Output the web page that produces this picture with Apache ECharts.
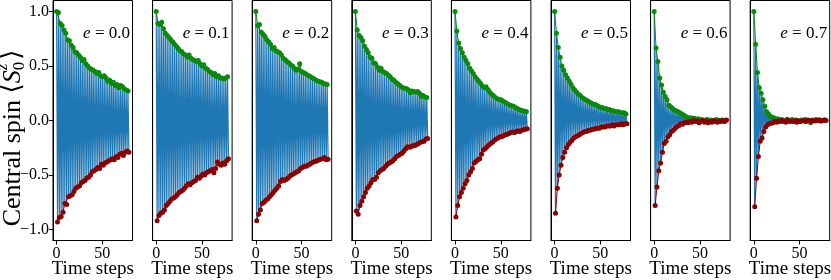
<!DOCTYPE html>
<html>
<head>
<meta charset="utf-8">
<script src="https://cdn.jsdelivr.net/npm/echarts@6/dist/echarts.min.js"></script>
<style>
  html, body { margin: 0; padding: 0; background: #fff; }
  #main { width: 831px; height: 280px; }
</style>
</head>
<body>
<div id="main"></div>
<script>
// panel labels (value of e)
var eLabels = ['0.0', '0.1', '0.2', '0.3', '0.4', '0.5', '0.6', '0.7'];
var xTicks = [0, 50];
var yTicks = [-1, -0.5, 0, 0.5, 1];

// upper envelope: even time steps 0,2,...,78 (green)
// lower envelope: odd time steps 1,3,...,79 (red)
var up00 = [1.00, 0.99, 0.89, 0.87, 0.83, 0.80, 0.74, 0.73, 0.69, 0.67, 0.63, 0.62, 0.60, 0.58, 0.55, 0.56, 0.52, 0.50, 0.48, 0.47,
            0.46, 0.45, 0.43, 0.44, 0.41, 0.40, 0.41, 0.39, 0.36, 0.37, 0.34, 0.35, 0.32, 0.33, 0.30, 0.32, 0.31, 0.29, 0.28, 0.27];
var lo00 = [-0.93, -0.89, -0.88, -0.84, -0.76, -0.77, -0.70, -0.69, -0.68, -0.65, -0.62, -0.61, -0.60, -0.57, -0.56, -0.55, -0.53, -0.52, -0.50, -0.47,
            -0.46, -0.45, -0.43, -0.44, -0.40, -0.41, -0.39, -0.38, -0.37, -0.36, -0.35, -0.36, -0.33, -0.34, -0.31, -0.30, -0.32, -0.29, -0.28, -0.29];

var up01 = [1.00, 0.89, 0.88, 0.90, 0.84, 0.80, 0.78, 0.76, 0.74, 0.72, 0.70, 0.68, 0.66, 0.64, 0.63, 0.61, 0.60, 0.58, 0.60, 0.57,
            0.56, 0.55, 0.54, 0.55, 0.52, 0.50, 0.51, 0.48, 0.47, 0.45, 0.44, 0.42, 0.43, 0.40, 0.41, 0.39, 0.39, 0.38, 0.39, 0.40];
var lo01 = [-0.92, -0.87, -0.85, -0.84, -0.82, -0.78, -0.76, -0.74, -0.72, -0.71, -0.70, -0.68, -0.66, -0.65, -0.64, -0.62, -0.60, -0.58, -0.59, -0.57,
            -0.56, -0.55, -0.52, -0.53, -0.51, -0.49, -0.50, -0.48, -0.47, -0.46, -0.45, -0.48, -0.44, -0.38, -0.40, -0.41, -0.39, -0.40, -0.37, -0.35];

var up02 = [1.00, 0.87, 0.88, 0.81, 0.79, 0.77, 0.74, 0.72, 0.70, 0.66, 0.67, 0.64, 0.63, 0.62, 0.60, 0.57, 0.56, 0.54, 0.53, 0.51,
            0.50, 0.48, 0.46, 0.47, 0.52, 0.45, 0.44, 0.43, 0.42, 0.41, 0.40, 0.39, 0.38, 0.37, 0.36, 0.355, 0.35, 0.34, 0.335, 0.33];
var lo02 = [-0.92, -0.86, -0.82, -0.76, -0.75, -0.73, -0.72, -0.70, -0.68, -0.66, -0.64, -0.62, -0.60, -0.56, -0.54, -0.55, -0.54, -0.53, -0.51, -0.50,
            -0.49, -0.48, -0.47, -0.46, -0.44, -0.43, -0.42, -0.42, -0.41, -0.40, -0.39, -0.38, -0.375, -0.37, -0.36, -0.355, -0.35, -0.34, -0.36, -0.355];

var up03 = [1.00, 0.83, 0.78, 0.76, 0.73, 0.68, 0.65, 0.62, 0.58, 0.57, 0.53, 0.52, 0.49, 0.46, 0.48, 0.45, 0.44, 0.43, 0.415, 0.40,
            0.38, 0.37, 0.35, 0.34, 0.325, 0.31, 0.30, 0.295, 0.29, 0.28, 0.255, 0.27, 0.265, 0.26, 0.265, 0.25, 0.22, 0.23, 0.215, 0.21];
var lo03 = [-0.83, -0.86, -0.78, -0.74, -0.70, -0.66, -0.62, -0.60, -0.57, -0.54, -0.54, -0.52, -0.48, -0.46, -0.45, -0.44, -0.42, -0.40, -0.39, -0.38,
            -0.37, -0.35, -0.33, -0.32, -0.31, -0.30, -0.28, -0.26, -0.24, -0.245, -0.24, -0.23, -0.23, -0.22, -0.21, -0.20, -0.195, -0.19, -0.17, -0.165];

var up04 = [1.00, 0.82, 0.71, 0.66, 0.62, 0.58, 0.55, 0.52, 0.48, 0.455, 0.43, 0.40, 0.38, 0.36, 0.34, 0.315, 0.30, 0.31, 0.285, 0.26,
            0.24, 0.23, 0.21, 0.20, 0.195, 0.19, 0.18, 0.17, 0.16, 0.15, 0.14, 0.135, 0.13, 0.12, 0.11, 0.10, 0.095, 0.09, 0.085, 0.08];
var lo04 = [-0.885, -0.78, -0.70, -0.66, -0.62, -0.58, -0.55, -0.50, -0.47, -0.44, -0.39, -0.375, -0.36, -0.35, -0.31, -0.27, -0.26, -0.24, -0.225, -0.21,
            -0.20, -0.18, -0.17, -0.16, -0.15, -0.15, -0.14, -0.13, -0.125, -0.12, -0.11, -0.105, -0.11, -0.10, -0.095, -0.10, -0.09, -0.085, -0.08, -0.075];

var up05 = [1.00, 0.80, 0.67, 0.58, 0.50, 0.46, 0.42, 0.39, 0.36, 0.33, 0.30, 0.28, 0.26, 0.24, 0.23, 0.21, 0.20, 0.19, 0.18, 0.17,
            0.16, 0.15, 0.15, 0.14, 0.13, 0.12, 0.12, 0.11, 0.11, 0.10, 0.10, 0.09, 0.09, 0.08, 0.08, 0.08, 0.07, 0.07, 0.07, 0.06];
var lo05 = [-0.85, -0.62, -0.50, -0.41, -0.34, -0.29, -0.25, -0.22, -0.20, -0.18, -0.16, -0.15, -0.14, -0.13, -0.12, -0.11, -0.10, -0.10, -0.09, -0.09,
            -0.08, -0.08, -0.07, -0.07, -0.07, -0.06, -0.06, -0.06, -0.05, -0.05, -0.05, -0.04, -0.05, -0.04, -0.04, -0.04, -0.03, -0.04, -0.03, -0.03];

var up06 = [1.00, 0.665, 0.54, 0.39, 0.325, 0.26, 0.22, 0.19, 0.14, 0.125, 0.11, 0.095, 0.09, 0.08, 0.07, 0.06, 0.05, 0.04, 0.03, 0.02,
            0.025, 0.015, 0.02, 0.01, 0.015, 0.005, 0.01, 0.0, 0.005, 0.01, 0.0, 0.005, -0.005, 0.0, 0.01, -0.005, 0.0, 0.005, -0.005, 0.0];
var lo06 = [-0.78, -0.61, -0.46, -0.39, -0.29, -0.21, -0.19, -0.15, -0.13, -0.10, -0.09, -0.07, -0.055, -0.045, -0.03, -0.035, -0.02, -0.015, -0.02, -0.01,
            -0.015, 0.0, -0.01, -0.005, -0.02, -0.01, 0.0, -0.015, -0.005, -0.02, -0.01, -0.015, 0.0, -0.01, -0.015, -0.005, -0.01, 0.0, -0.01, 0.005];

var up07 = [1.00, 0.70, 0.44, 0.30, 0.25, 0.19, 0.13, 0.08, 0.06, 0.04, 0.03, 0.025, 0.01, 0.015, 0.005, 0.01, 0.005, 0.0, 0.01, 0.005,
            0.0, 0.01, -0.005, 0.005, 0.0, -0.01, 0.005, 0.0, 0.01, -0.005, 0.0, -0.02, 0.005, 0.0, 0.01, 0.0, 0.005, -0.005, 0.0, 0.005];
var lo07 = [-0.79, -0.53, -0.33, -0.19, -0.16, -0.10, -0.06, -0.04, -0.03, -0.025, -0.02, -0.01, -0.015, -0.005, -0.01, 0.0, -0.01, -0.015, 0.005, -0.01,
            -0.005, -0.01, 0.0, -0.015, -0.005, -0.01, 0.0, -0.005, -0.01, 0.005, 0.0, -0.01, 0.0, -0.005, 0.0, 0.005, -0.005, 0.0, 0.005, 0.0];

var uppers = [up00, up01, up02, up03, up04, up05, up06, up07];
var lowers = [lo00, lo01, lo02, lo03, lo04, lo05, lo06, lo07];

var FONT = '"Liberation Serif", "DejaVu Serif", serif';
var BLUE = '#1f77b4', GREEN = '#0a8a0a', RED = '#8b0000';

var dom = document.getElementById('main');
var myChart = echarts.init(dom, null, { renderer: 'canvas' });

function fmt(v) {
    return v < 0 ? '\u2212' + (-v).toFixed(1) : v.toFixed(1);
}

var grids = [], xAxes = [], yAxes = [], series = [], graphics = [];
for (var i = 0; i < 8; i++) {
    var left = 53 + i * 99.6;
    grids.push({ left: left, top: 0.5, width: 79.5, height: 240, show: true,
                 containLabel: false, outerBoundsMode: 'none',
                 borderColor: '#000', borderWidth: 1, backgroundColor: 'transparent' });
    xAxes.push({
        gridIndex: i, type: 'value', min: -3.95, max: 82.95,
        axisLine: { show: true, onZero: false, lineStyle: { color: '#000', width: 1 } },
        axisTick: { show: true, customValues: xTicks, length: 4, lineStyle: { color: '#000' } },
        axisLabel: { customValues: xTicks, fontFamily: FONT, fontSize: 16, color: '#000', margin: 5 },
        splitLine: { show: false },
        name: 'Time steps', nameLocation: 'middle', nameGap: 19, nameMoveOverlap: false,
        nameTextStyle: { fontFamily: FONT, fontSize: 19, color: '#000', verticalAlign: 'top' }
    });
    yAxes.push({
        gridIndex: i, type: 'value', min: -1.1, max: 1.1,
        axisLine: { show: true, onZero: false, lineStyle: { color: '#000', width: 1 } },
        axisTick: { show: i === 0, customValues: yTicks, length: 4, lineStyle: { color: '#000' } },
        axisLabel: { show: i === 0, customValues: yTicks, fontFamily: FONT, fontSize: 16, color: '#000', margin: 4, formatter: fmt },
        splitLine: { show: false }
    });

    var up = uppers[i], lo = lowers[i];
    var zig = [], gData = [], rData = [];
    for (var k = 0; k < up.length; k++) {
        zig.push([2 * k, up[k]]);
        zig.push([2 * k + 1, lo[k]]);
        gData.push([2 * k, up[k]]);
        rData.push([2 * k + 1, lo[k]]);
    }
    series.push({
        type: 'line', xAxisIndex: i, yAxisIndex: i, data: zig, showSymbol: false,
        lineStyle: { color: BLUE, width: 1.2 }, silent: true, animation: false, z: 1
    });
    series.push({
        type: 'line', xAxisIndex: i, yAxisIndex: i, data: gData, symbol: 'circle', symbolSize: 5,
        itemStyle: { color: GREEN }, lineStyle: { color: GREEN, width: 1 }, animation: false, z: 2
    });
    series.push({
        type: 'line', xAxisIndex: i, yAxisIndex: i, data: rData, symbol: 'circle', symbolSize: 5,
        itemStyle: { color: RED }, lineStyle: { color: RED, width: 1 }, animation: false, z: 3
    });

    graphics.push({
        type: 'text', x: left + 77, y: 34, z: 10,
        style: {
            text: '{i|e} = ' + eLabels[i],
            rich: { i: { fontStyle: 'italic', fontFamily: FONT, fontSize: 17, fill: '#000' } },
            fontFamily: FONT, fontSize: 17, fill: '#000',
            align: 'right', verticalAlign: 'middle', textAlign: 'right', textVerticalAlign: 'middle'
        }
    });
}

// y axis title, rotated, with stacked sub/superscript
var BIG = 26, SMALL = 17;
var ctx = document.createElement('canvas').getContext('2d');
ctx.font = BIG + 'px ' + FONT;
var w1 = ctx.measureText('Central spin \u27E8').width;
ctx.font = 'italic ' + BIG + 'px ' + FONT;
var wS = ctx.measureText('S').width;
ctx.font = SMALL + 'px ' + FONT;
var wSub = ctx.measureText('0').width + 2;
ctx.font = BIG + 'px ' + FONT;
var wR = ctx.measureText('\u27E9').width;
var total = w1 + wS + wSub + wR;
function t(txt, x, y, size, italic) {
    return { type: 'text', x: x, y: y,
        style: { text: txt, fontFamily: FONT, fontSize: size, fontStyle: italic ? 'italic' : 'normal', fill: '#000',
                 align: 'left', verticalAlign: 'middle', textAlign: 'left', textVerticalAlign: 'middle' } };
}
graphics.push({
    type: 'group', x: 13, y: 138 + total / 2, rotation: Math.PI / 2,
    children: [
        t('Central spin \u27E8', 0, 0, BIG, false),
        t('S', w1, 0, BIG, true),
        t('0', w1 + wS, 7, SMALL, false),
        t('z', w1 + wS, -10, SMALL, true),
        t('\u27E9', w1 + wS + wSub, 0, BIG, false)
    ]
});

var option = {
    backgroundColor: '#fff',
    animation: false,
    grid: grids,
    xAxis: xAxes,
    yAxis: yAxes,
    series: series,
    graphic: graphics
};
myChart.setOption(option, true);
</script>
</body>
</html>
